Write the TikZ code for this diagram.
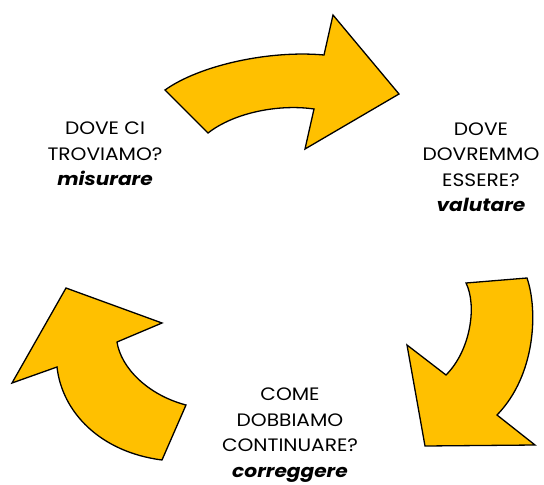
\documentclass[tikz,border=0pt]{standalone}
\usepackage{fontspec}
\setmainfont{Poppins}[FakeStretch=1.12]
\definecolor{gold}{HTML}{FFC000}
\tikzset{
  cyclearrow/.style={fill=gold, draw=black, line width=1.3pt, line join=miter},
  lbl/.style={align=center, inner sep=0pt, font=\fontsize{18}{25.5}\selectfont},
}
\newcommand{\kw}[1]{{\bfseries\itshape #1}}
\begin{document}
\begin{tikzpicture}[x=1pt,y=-1pt]
\useasboundingbox (0,0) rectangle (544,485);
% top arrow
\draw[cyclearrow] (165,90) .. controls (200,65) and (270,50) .. (324,55)
  -- (333,15) -- (399,94) -- (305,149) -- (314,109)
  .. controls (280,104) and (235,112) .. (208,133) -- cycle;
% right arrow
\draw[cyclearrow] (466,283) -- (527,278)
  .. controls (538,310) and (536,375) .. (497,415)
  -- (535,445) -- (425,446) -- (407,345) -- (446,375)
  .. controls (471,350) and (477,305) .. (466,283) -- cycle;
% left arrow
\draw[cyclearrow] (66,288) -- (162,323) -- (117,342)
  .. controls (121,368) and (148,395) .. (186,405)
  -- (162,460)
  .. controls (100,452) and (62,412) .. (57,367)
  -- (12,383) -- cycle;
\node[lbl] (misurare) at (105,154) {DOVE CI\\TROVIAMO?\\\kw{misurare}};
\node[lbl] (valutare) at (481,167) {DOVE\\DOVREMMO\\ESSERE?\\\kw{valutare}};
\node[lbl] (correggere) at (290,435) {COME\\DOBBIAMO\\CONTINUARE?\\\kw{correggere}};
\end{tikzpicture}
\end{document}
